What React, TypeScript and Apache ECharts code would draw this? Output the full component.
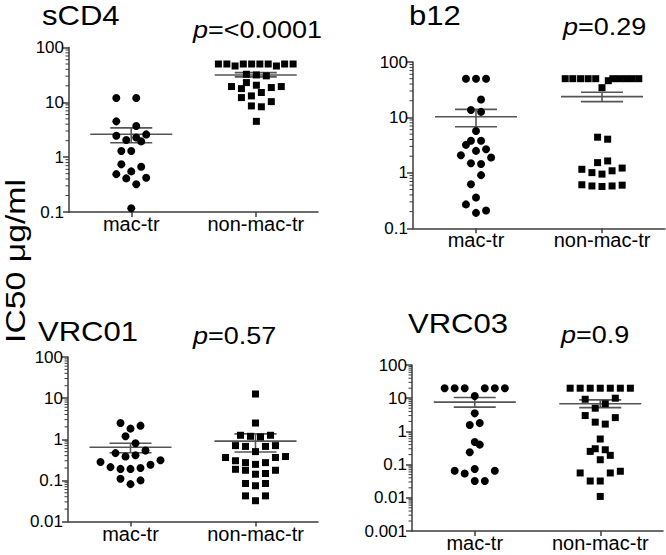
import React, { useEffect, useRef } from 'react';
import * as echarts from 'echarts';

const FONT = '"Liberation Sans", Arial, Helvetica, sans-serif';

const categories = ['mac-tr', 'non-mac-tr'];
const yAxisTitle = 'IC50 μg/ml';

// ---- sCD4 ----
const sCD4Title = 'sCD4';
const sCD4P = '<0.0001';
const sCD4Ticks = [0.1, 1, 10, 100];
const sCD4MacValues = [12, 12, 4.5, 3.7, 2.46, 2.05, 2.29, 2.6, 1.94, 1.3, 1.3, 0.74, 0.67, 0.49, 0.55, 0.41, 0.42, 0.32, 0.117];
const sCD4MacJitter = [-0.12, 0.04, -0.12, 0.04, -0.12, -0.04, 0.04, 0.12, 0.08, -0.08, 0, -0.08, 0.08, -0.12, 0, -0.04, 0.12, 0.04, 0];
const sCD4NonValues = [50, 50, 46, 50, 50, 50, 50, 46, 50, 50, 32.5, 31.6, 30.4, 22.9, 19.4, 17.8, 20.5, 15.1, 18.6, 19.4, 12.2, 13.1, 8.6, 8.3, 10.3, 4.5];
const sCD4NonJitter = [-0.3, -0.232, -0.166, -0.1, -0.033, 0.033, 0.1, 0.166, 0.232, 0.3, -0.075, 0.005, 0.085, -0.075, -0.195, -0.115, 0.005, 0.045, 0.125, 0.205, -0.115, -0.035, -0.035, 0.045, 0.125, 0.005];
const sCD4Means = [2.62, 31.6];
const sCD4Lows = [1.83, 29.1];
const sCD4Highs = [3.42, 34.8];

// ---- b12 ----
const b12Title = 'b12';
const b12P = '0.29';
const b12Ticks = [0.1, 1, 10, 100];
const b12MacValues = [50, 50, 50, 21, 13.6, 12.6, 5.7, 3.8, 3.8, 3.2, 2.67, 2.49, 2.08, 1.89, 1.49, 1.45, 0.91, 0.625, 0.36, 0.27, 0.19, 0.21];
const b12MacJitter = [-0.08, 0, 0.08, 0.04, -0.04, 0.04, 0, -0.04, 0.04, -0.08, 0.08, 0, -0.12, 0.12, -0.04, 0.04, 0.04, -0.04, 0, -0.08, 0, 0.08];
const b12NonValues = [50, 50, 50, 50, 50, 46, 50, 50, 50, 50, 50, 34.4, 4.4, 4.05, 1.53, 1.64, 1.16, 1.01, 0.95, 1.09, 1.22, 0.61, 0.58, 0.567, 0.58, 0.6];
const b12NonJitter = [-0.292, -0.232, -0.17, -0.11, -0.05, 0.05, 0.086, 0.138, 0.189, 0.24, 0.292, 0, -0.035, 0.045, -0.035, 0.045, -0.16, -0.08, 0, 0.08, 0.16, -0.16, -0.08, 0, 0.08, 0.16];
const b12Means = [10.3, 23.7];
const b12Lows = [6.8, 19.3];
const b12Highs = [14, 28.4];

// ---- VRC01 ----
const vrc01Title = 'VRC01';
const vrc01P = '0.57';
const vrc01Ticks = [0.01, 0.1, 1, 10, 100];
const vrc01MacValues = [2.48, 2.14, 1.81, 1.18, 0.8, 0.46, 0.53, 0.38, 0.41, 0.28, 0.31, 0.21, 0.19, 0.19, 0.2, 0.24, 0.11, 0.1, 0.081];
const vrc01MacJitter = [-0.08, 0.08, 0, -0.04, 0.04, -0.12, 0.12, -0.04, 0.04, -0.24, 0.24, -0.16, -0.08, 0, 0.08, 0.16, -0.08, 0.08, 0];
const vrc01NonValues = [12.6, 2.48, 1.25, 1.18, 1.14, 1.25, 0.7, 0.67, 0.67, 0.7, 0.5, 0.36, 0.36, 0.38, 0.3, 0.27, 0.245, 0.27, 0.186, 0.176, 0.141, 0.147, 0.176, 0.084, 0.074, 0.084, 0.042, 0.032, 0.042];
const vrc01NonJitter = [0, 0, -0.12, -0.04, 0.04, 0.12, -0.16, -0.08, 0.08, 0.16, 0, -0.24, 0.16, 0.24, -0.16, -0.08, 0, 0.08, -0.16, -0.08, 0, 0.08, 0.16, -0.08, 0, 0.08, -0.08, 0, 0.08];
const vrc01Means = [0.64, 0.9];
const vrc01Lows = [0.47, 0.49];
const vrc01Highs = [0.8, 1.35];

// ---- VRC03 ----
const vrc03Title = 'VRC03';
const vrc03P = '0.9';
const vrc03Ticks = [0.001, 0.01, 0.1, 1, 10, 100];
const vrc03MacValues = [20, 20, 20, 20, 20, 20, 11.7, 3.5, 1.55, 1.78, 0.48, 0.4, 0.235, 0.065, 0.054, 0.074, 0.065, 0.032, 0.032];
const vrc03MacJitter = [-0.24, -0.16, -0.08, 0.08, 0.16, 0.24, 0, 0, -0.04, 0.04, 0, 0.04, -0.04, -0.16, -0.08, 0, 0.16, 0, 0.08];
const vrc03NonValues = [20, 20, 20, 20, 20, 20, 20, 9.3, 10, 6.8, 5.0, 3.0, 2.6, 1.9, 1.66, 0.59, 0.3, 0.25, 0.28, 0.19, 0.14, 0.056, 0.056, 0.063, 0.032, 0.032, 0.011];
const vrc03NonJitter = [-0.24, -0.16, -0.08, 0, 0.08, 0.16, 0.24, -0.12, 0.12, 0.04, -0.04, -0.12, 0.12, -0.04, 0.04, 0, -0.04, -0.08, 0.04, 0.08, 0, -0.16, 0.08, 0.16, -0.08, 0, 0];
const vrc03Means = [7.6, 6.8];
const vrc03Lows = [5.4, 5.2];
const vrc03Highs = [10.5, 8.9];

const MINOR_STEPS = [2, 3, 4, 5, 6, 7, 8, 9];

const AXIS_COLOR = '#3c3c3c';
const STAT_COLOR = '#555555';

const panels = [
  {
    title: sCD4Title, p: sCD4P, ticks: sCD4Ticks,
    mac: sCD4MacValues, macJ: sCD4MacJitter, non: sCD4NonValues, nonJ: sCD4NonJitter,
    means: sCD4Means, lows: sCD4Lows, highs: sCD4Highs,
    grid: { left: 69, top: 47.5, width: 249, height: 164.5 },
    titleXY: [42, 25.5], pXY: [193, 37.7],
  },
  {
    title: b12Title, p: b12P, ticks: b12Ticks,
    mac: b12MacValues, macJ: b12MacJitter, non: b12NonValues, nonJ: b12NonJitter,
    means: b12Means, lows: b12Lows, highs: b12Highs,
    grid: { left: 413, top: 62, width: 252, height: 166.3 },
    titleXY: [409, 25.5], pXY: [563, 35],
  },
  {
    title: vrc01Title, p: vrc01P, ticks: vrc01Ticks,
    mac: vrc01MacValues, macJ: vrc01MacJitter, non: vrc01NonValues, nonJ: vrc01NonJitter,
    means: vrc01Means, lows: vrc01Lows, highs: vrc01Highs,
    grid: { left: 68, top: 357, width: 250, height: 164.5 },
    titleXY: [38, 341], pXY: [193, 344],
  },
  {
    title: vrc03Title, p: vrc03P, ticks: vrc03Ticks,
    mac: vrc03MacValues, macJ: vrc03MacJitter, non: vrc03NonValues, nonJ: vrc03NonJitter,
    means: vrc03Means, lows: vrc03Lows, highs: vrc03Highs,
    grid: { left: 412, top: 365, width: 251, height: 166 },
    titleXY: [408, 333], pXY: [561, 342.7],
  },
];

const TITLE_SIZE = 27;
const TITLE_SCALE = 1.15;
const P_SIZE = 24;
const P_SCALE = 1.125;
const YT_SIZE = 27;
const YT_SCALE = 1.25;
const BASE = 0.3465; // central-to-alphabetic baseline offset (em)

function fmtTick(v: number) {
  return String(parseFloat(Number(v).toPrecision(3)));
}

function buildOption() {
  const grids: any[] = [];
  const xAxes: any[] = [];
  const yAxes: any[] = [];
  const series: any[] = [];
  const graphic: any[] = [];

  panels.forEach((pn, i) => {
    grids.push({ ...pn.grid, containLabel: false });
    xAxes.push({
      type: 'category',
      gridIndex: i,
      data: categories,
      boundaryGap: true,
      position: 'bottom',
      axisLine: { show: true, onZero: false, lineStyle: { color: AXIS_COLOR, width: 1.5 } },
      axisTick: { show: true, alignWithLabel: true, length: 5, lineStyle: { color: AXIS_COLOR, width: 1.5 } },
      axisLabel: { show: true, interval: 0, hideOverlap: false, color: '#000', fontSize: 20, fontFamily: FONT, margin: 2 },
      splitLine: { show: false },
    });
    xAxes.push({
      type: 'value',
      gridIndex: i,
      min: -0.5,
      max: 1.5,
      show: false,
      axisLine: { show: false, onZero: false },
      splitLine: { show: false },
    });
    const ticks = pn.ticks;
    yAxes.push({
      type: 'log',
      logBase: 10,
      gridIndex: i,
      position: 'left',
      min: ticks[0],
      max: ticks[ticks.length - 1],
      axisLine: { show: true, onZero: false, lineStyle: { color: AXIS_COLOR, width: 1.5 } },
      axisTick: { show: true, length: 6, lineStyle: { color: AXIS_COLOR, width: 1.5 } },
      axisLabel: { show: true, color: '#000', fontSize: 17, fontFamily: FONT, margin: 5, formatter: (v: number) => fmtTick(v) },
      splitLine: { show: false },
    });

    const xIdx = i * 2 + 1;
    series.push({
      type: 'custom',
      xAxisIndex: xIdx,
      yAxisIndex: i,
      silent: true,
      clip: false,
      z: 1,
      data: ticks.slice(0, -1).map((d) => [-0.5, d]),
      encode: { x: 0, y: 1 },
      renderItem: (params: any, api: any) => {
        const d = api.value(1);
        const x0 = params.coordSys.x;
        const children = MINOR_STEPS.map((k) => {
          const pt = api.coord([-0.5, d * k]);
          return {
            type: 'line',
            shape: { x1: x0 - 3.5, y1: pt[1], x2: x0, y2: pt[1] },
            style: { stroke: AXIS_COLOR, lineWidth: 1 },
          };
        });
        return { type: 'group', children };
      },
    });
    series.push({
      type: 'custom',
      xAxisIndex: xIdx,
      yAxisIndex: i,
      silent: true,
      z: 2,
      data: categories.map((_, c) => [c, pn.means[c], pn.lows[c], pn.highs[c]]),
      dimensions: ['x', 'm', 'lo', 'hi'],
      encode: { x: 0, y: 1 },
      renderItem: (params: any, api: any) => {
        const c = api.value(0);
        const pm = api.coord([c, api.value(1)]);
        const pl = api.coord([c, api.value(2)]);
        const ph = api.coord([c, api.value(3)]);
        const style = { stroke: STAT_COLOR, lineWidth: 1.6 };
        return {
          type: 'group',
          children: [
            { type: 'line', shape: { x1: pm[0] - 41, y1: pm[1], x2: pm[0] + 41, y2: pm[1] }, style },
            { type: 'line', shape: { x1: pl[0], y1: pl[1], x2: ph[0], y2: ph[1] }, style },
            { type: 'line', shape: { x1: pl[0] - 21, y1: pl[1], x2: pl[0] + 21, y2: pl[1] }, style },
            { type: 'line', shape: { x1: ph[0] - 21, y1: ph[1], x2: ph[0] + 21, y2: ph[1] }, style },
          ],
        };
      },
    });
    series.push({
      type: 'scatter',
      xAxisIndex: xIdx,
      yAxisIndex: i,
      symbol: 'circle',
      symbolSize: 8,
      z: 3,
      itemStyle: { color: '#000', opacity: 1 },
      data: pn.mac.map((v, k) => [0 + pn.macJ[k], v]),
    });
    series.push({
      type: 'scatter',
      xAxisIndex: xIdx,
      yAxisIndex: i,
      symbol: 'rect',
      symbolSize: 7,
      z: 3,
      itemStyle: { color: '#000', opacity: 1 },
      data: pn.non.map((v, k) => [1 + pn.nonJ[k], v]),
    });

    graphic.push({
      type: 'text',
      x: pn.titleXY[0],
      y: pn.titleXY[1] - BASE * TITLE_SIZE,
      scaleX: TITLE_SCALE,
      style: {
        text: pn.title,
        fill: '#000',
        fontSize: TITLE_SIZE,
        fontFamily: FONT,
        lineHeight: 22,
        align: 'left',
        verticalAlign: 'middle',
      },
    });
    graphic.push({
      type: 'text',
      x: pn.pXY[0],
      y: pn.pXY[1] - BASE * P_SIZE,
      scaleX: P_SCALE,
      style: {
        text: '{i|p}{n|=' + pn.p + '}',
        fill: '#000',
        fontSize: P_SIZE,
        fontFamily: FONT,
        lineHeight: 22,
        align: 'left',
        verticalAlign: 'middle',
        rich: {
          i: { fontStyle: 'italic', fontSize: P_SIZE, fontFamily: FONT, fill: '#000', lineHeight: 22 },
          n: { fontSize: P_SIZE, fontFamily: FONT, fill: '#000', lineHeight: 22 },
        },
      },
    });
  });

  graphic.push({
    type: 'text',
    x: 25 - BASE * YT_SIZE,
    y: 261,
    rotation: Math.PI / 2,
    scaleX: YT_SCALE,
    style: {
      text: yAxisTitle,
      fill: '#000',
      fontSize: YT_SIZE,
      fontFamily: FONT,
      lineHeight: 22,
      align: 'center',
      verticalAlign: 'middle',
    },
  });

  return {
    animation: false,
    backgroundColor: '#ffffff',
    grid: grids,
    xAxis: xAxes,
    yAxis: yAxes,
    series,
    graphic,
  };
}

export default function App() {
  const ref = useRef<HTMLDivElement>(null);
  useEffect(() => {
    if (!ref.current) return;
    const chart = echarts.init(ref.current, undefined, { renderer: 'svg' });
    chart.setOption(buildOption() as any);
    return () => chart.dispose();
  }, []);
  return (
    <div
      ref={ref}
      style={{ position: 'fixed', left: 0, top: 0, width: 666, height: 555, background: '#fff' }}
    />
  );
}
